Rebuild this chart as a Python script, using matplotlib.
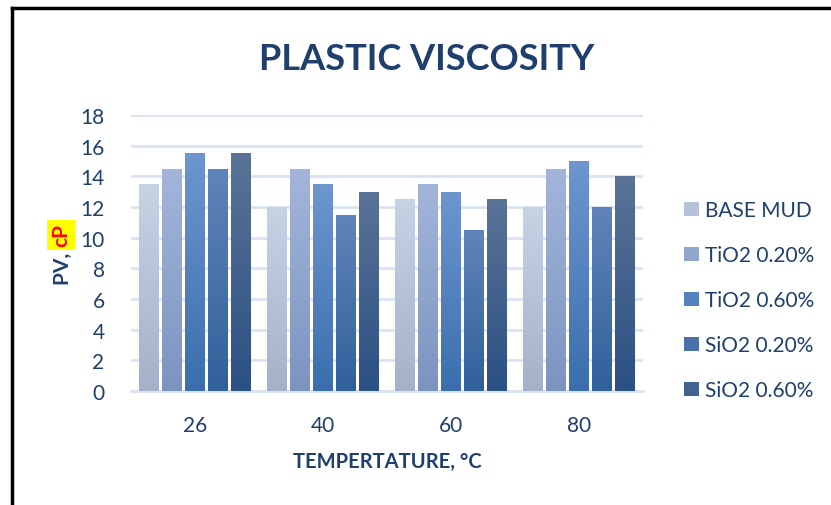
import numpy as np
import matplotlib
matplotlib.use("Agg")
import matplotlib.pyplot as plt
from matplotlib.lines import Line2D
from matplotlib.colors import LinearSegmentedColormap, to_rgb

categories = ["26", "40", "60", "80"]
series_names = ["BASE MUD", "TiO2 0.20%", "TiO2 0.60%", "SiO2 0.20%", "SiO2 0.60%"]
base_mud = [13.5, 12.0, 12.5, 12.0]
tio2_020 = [14.5, 14.5, 13.5, 14.5]
tio2_060 = [15.5, 13.5, 13.0, 15.0]
sio2_020 = [14.5, 11.5, 10.5, 12.0]
sio2_060 = [15.5, 13.0, 12.5, 14.0]
yticks = [0, 2, 4, 6, 8, 10, 12, 14, 16, 18]

series = [base_mud, tio2_020, tio2_060, sio2_020, sio2_060]
tops = ["#c7d2e5", "#a4b5da", "#6e96cf", "#6084ba", "#5a7397"]
bottoms = ["#a5b1ca", "#7d94bf", "#3a6eae", "#31609c", "#2b5084"]
mids = []
for t, b in zip(tops, bottoms):
    mids.append(tuple((np.array(to_rgb(t)) + np.array(to_rgb(b))) / 2))

text_color = "#1f3f6e"
font = "Lato"
plt.rcParams['font.family'] = [font, 'DejaVu Sans']

fig = plt.figure(figsize=(8.31, 5.06), dpi=100)
ax = fig.add_axes([131/831, 1-392/506, 512/831, 276/506])

x = np.arange(len(categories))
step = 0.18
width = 0.156
for i, vals in enumerate(series):
    offs = (i - 2) * step
    bars = ax.bar(x + offs, vals, width=width, color=mids[i], label=series_names[i], zorder=2)
    cmap = LinearSegmentedColormap.from_list(f"g{i}", [bottoms[i], tops[i]])
    for bar in bars:
        bx, by = bar.get_x(), bar.get_y()
        bw, bh = bar.get_width(), bar.get_height()
        grad = np.linspace(0, 1, 256).reshape(-1, 1)
        im = ax.imshow(grad, extent=[bx, bx + bw, by, by + bh], origin="lower",
                       cmap=cmap, aspect="auto", zorder=3)
        im.set_clip_path(bar)

ax.set_xlim(-0.5, 3.5)
ax.set_ylim(0, 18)
ax.set_yticks(yticks)
ax.set_xticks(x)
ax.set_xticklabels(categories)
ax.tick_params(axis="both", length=0, labelsize=15, labelcolor=text_color)
ax.tick_params(axis="x", pad=17)
ax.tick_params(axis="y", pad=19)
ax.grid(axis="y", color="#dae3f1", linewidth=2, zorder=0)
ax.set_axisbelow(True)
for s in ["top", "right", "left"]:
    ax.spines[s].set_visible(False)
ax.spines["bottom"].set_color("#dae3f1")
ax.spines["bottom"].set_linewidth(2)

fig.text(427/831, 1-60/506, "PLASTIC VISCOSITY", ha="center", va="center",
         fontsize=26, fontweight="bold", color=text_color)
fig.text(387/831, 1-462/506, "TEMPERTATURE, °C", ha="center", va="center",
         fontsize=14.5, fontweight="bold", color=text_color)
fig.text(63/831, 1-266/506, "PV, ", ha="center", va="center", rotation=90,
         fontsize=15, fontweight="bold", color=text_color)
fig.text(61/831, 1-236/506, "cP", ha="center", va="center", rotation=90,
         fontsize=15, fontweight="bold", color="#ff0000",
         bbox=dict(facecolor="#ffff00", edgecolor="none", pad=2.5))

handles, labels = ax.get_legend_handles_labels()
leg = fig.legend(handles, labels, loc="upper left", bbox_to_anchor=(676/831, 1-193/506),
                 frameon=False, fontsize=15, labelspacing=1.2, handlelength=0.7,
                 handleheight=0.7, handletextpad=0.3, borderaxespad=0)
for t in leg.get_texts():
    t.set_color(text_color)

# frame border
fig.add_artist(Line2D([12/831, 12/831], [0, 1-9/506], color="black", linewidth=2.5,
                      transform=fig.transFigure))
fig.add_artist(Line2D([12/831, 1], [1-9/506, 1-9/506], color="black", linewidth=2.5,
                      transform=fig.transFigure))

fig.savefig("out.png", dpi=100)
